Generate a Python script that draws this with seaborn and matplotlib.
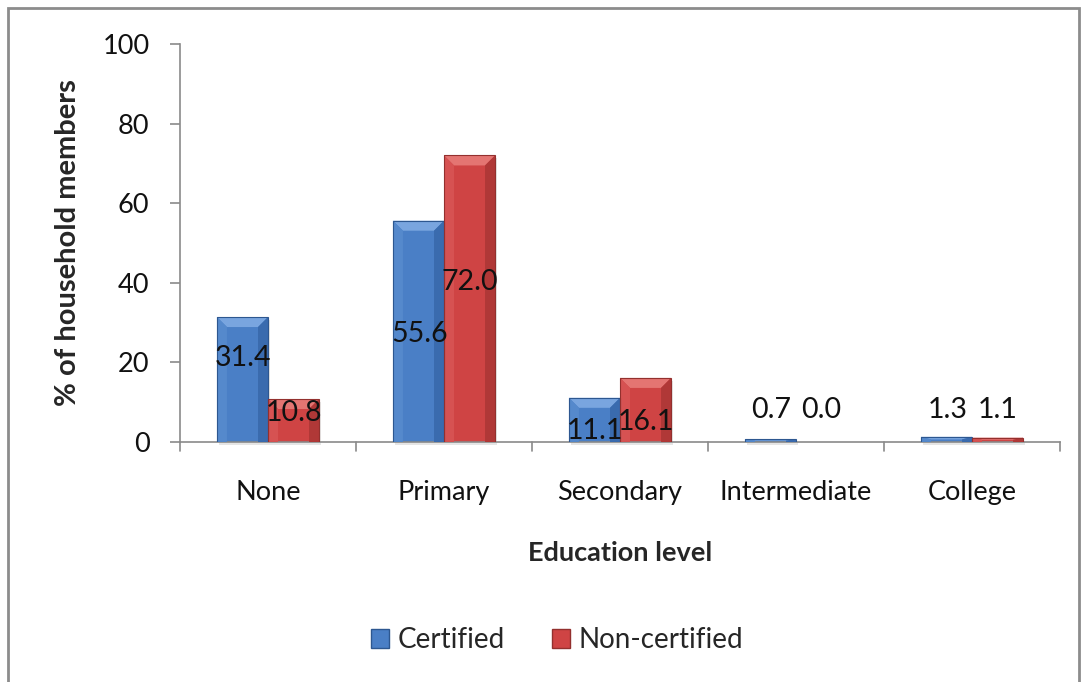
import matplotlib
matplotlib.use("Agg")
import matplotlib.pyplot as plt
from matplotlib.patches import Polygon, Rectangle, Patch
from matplotlib.colors import to_hex
import pandas as pd
import seaborn as sns

# Education level of household members, by certification status
levels = ["None", "Primary", "Secondary", "Intermediate", "College"]
certified = [31.4, 55.6, 11.1, 0.7, 1.3]
non_certified = [10.8, 72.0, 16.1, 0.0, 1.1]
groups = ["Certified", "Non-certified"]

# heights (in % units) at which each value label sits
label_y_certified = [21.1, 27.1, 2.8, 8.0, 8.0]
label_y_non_certified = [7.3, 40.2, 5.0, 8.0, 8.0]

df = pd.DataFrame({
    "level": levels * 2,
    "pct": certified + non_certified,
    "group": [groups[0]] * len(levels) + [groups[1]] * len(levels),
})

sns.set_theme(style="white")
plt.rcParams["font.family"] = ["Lato", "DejaVu Sans"]

BLUE = "#4A7FC6"
RED = "#CF4444"
AXIS = "#8a8a8a"
TXT = "#111111"

fig = plt.figure(figsize=(10.83, 6.82), dpi=100)
ax = fig.add_axes([180 / 1083, 240 / 682, 880 / 1083, 398 / 682])

sns.barplot(data=df, x="level", y="pct", hue="group", palette=[BLUE, RED],
            width=0.58, order=levels, hue_order=groups, ax=ax,
            legend=False, saturation=1, linewidth=0)

ax.set_xlim(-0.5, len(levels) - 0.5)
ax.set_ylim(0, 100)

# bevel facets on each bar
bbox = ax.get_window_extent()
px_x = bbox.width / len(levels)
px_y = bbox.height / 100.0
shade = {
    BLUE: dict(top="#79A5DF", left="#5589CC", right="#3A6BAE", edge="#2D5790"),
    RED: dict(top="#E47572", left="#D65252", right="#B03837", edge="#93302E"),
}
for bar in list(ax.patches):
    x, y = bar.get_x(), bar.get_y()
    w, h = bar.get_width(), bar.get_height()
    if h <= 0:
        continue
    col = to_hex(bar.get_facecolor()).upper()
    s = shade[BLUE] if col == BLUE.upper() else shade[RED]
    bx = 10 / px_x
    by = min(10 / px_y, h / 2)
    # soft shadow under the bar
    ax.add_patch(Rectangle((x + 2 / px_x, y - 3 / px_y), w, h, facecolor="#000000",
                           alpha=0.10, linewidth=0, zorder=1.5, clip_on=False))
    facets = [
        ([(x, y + h), (x + w, y + h), (x + w - bx, y + h - by), (x + bx, y + h - by)], s["top"]),
        ([(x, y), (x, y + h), (x + bx, y + h - by), (x + bx, y)], s["left"]),
        ([(x + w, y), (x + w, y + h), (x + w - bx, y + h - by), (x + w - bx, y)], s["right"]),
    ]
    for pts, fc in facets:
        ax.add_patch(Polygon(pts, closed=True, facecolor=fc, linewidth=0, zorder=3))
    ax.add_patch(Rectangle((x, y), w, h, facecolor="none", edgecolor=s["edge"],
                           linewidth=0.8, zorder=3.5))
    bar.set_zorder(2.5)

# value labels
offsets = [-0.14, 0.145]
for gi, (vals, ly) in enumerate([(certified, label_y_certified),
                                 (non_certified, label_y_non_certified)]):
    for i, (v, yy) in enumerate(zip(vals, ly)):
        ax.text(i + offsets[gi], yy, f"{v:.1f}", ha="center", va="center",
                fontsize=20.5, color=TXT, zorder=5)

# axes styling
for side in ["top", "right"]:
    ax.spines[side].set_visible(False)
for side in ["left", "bottom"]:
    ax.spines[side].set_color(AXIS)
    ax.spines[side].set_linewidth(1.2)

ax.set_yticks(range(0, 101, 20))
ax.tick_params(axis="y", direction="out", length=7, width=1.2, color=AXIS,
               labelsize=19.5, pad=15, left=True, labelcolor=TXT)
ax.set_xticks(range(len(levels)))
ax.set_xticklabels(levels)
ax.tick_params(axis="x", length=0, labelsize=19.5, pad=27.5, labelcolor=TXT)
# category separators below the axis
for k in range(len(levels) + 1):
    ax.plot([k - 0.5, k - 0.5], [0, -2.2], color=AXIS, lw=1.2, clip_on=False, zorder=4)

ax.set_xlabel("Education level", fontsize=19.5, fontweight="bold", labelpad=26)
ax.set_ylabel("% of household members", fontsize=21, fontweight="bold", labelpad=15)

handles = [Patch(facecolor=BLUE, edgecolor=shade[BLUE]["edge"]),
           Patch(facecolor=RED, edgecolor=shade[RED]["edge"])]
fig.legend(handles, groups, loc="center", bbox_to_anchor=(557 / 1083, 1 - 640 / 682),
           ncol=2, frameon=False, fontsize=20, handlelength=0.65, handleheight=0.65,
           handletextpad=0.3, columnspacing=1.7)

# chart-area border
fig.add_artist(Rectangle((8 / 1083, -0.02), 1071 / 1083, 1 - 8 / 682 + 0.02,
                         transform=fig.transFigure, facecolor="none",
                         edgecolor="#8c8c8c", linewidth=2))

fig.savefig("out.png", dpi=100)
